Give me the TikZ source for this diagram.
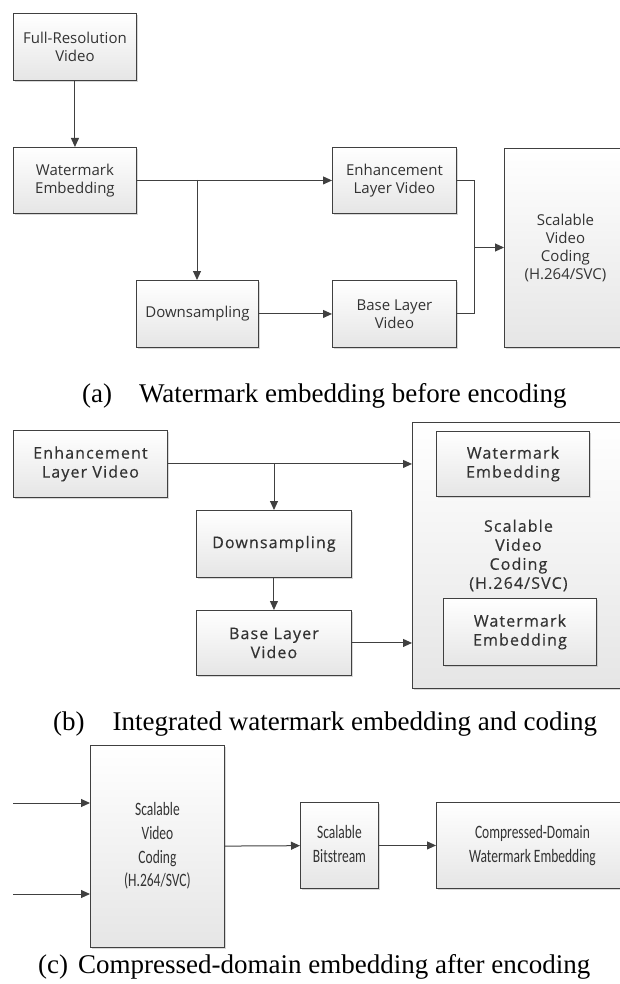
\documentclass[tikz,border=0pt]{standalone}
\usepackage{fontspec}
\setmainfont{Liberation Serif}
\newfontfamily\boxfont{Open Sans}
\newfontfamily\boxfontb[LetterSpace=7,FakeBold=0.4]{Open Sans}
\newfontfamily\calfont{Carlito}
\usepackage{xcolor}
\usepackage{tikz}
\usetikzlibrary{arrows.meta}
\usetikzlibrary{shadows}
\newcommand{\tallt}[1]{\scalebox{1}[1.4]{\begin{tabular}{@{}c@{}}#1\end{tabular}}}

\begin{document}
\begin{tikzpicture}[x=1pt, y=-1pt,
    blk/.style={draw=black!75, line width=0.9pt, top color=white, bottom color=black!10,
      drop shadow={shadow xshift=1.5pt, shadow yshift=-1.5pt, fill=black!30, opacity=.5},
      anchor=north west, inner sep=0pt, align=center, text=black!80},
    blka/.style={blk, font=\boxfont\fontsize{15}{18}\selectfont},
    blkb/.style={blk, font=\boxfontb\fontsize{16}{19}\selectfont},
    blkc/.style={blk, font=\calfont\fontsize{13.5}{17}\selectfont},
    arr/.style={draw=black!75, line width=1pt, -{Triangle[length=9pt, width=8pt]}},
    lin/.style={draw=black!75, line width=1pt},
    figcap/.style={anchor=base west, inner sep=0pt, font=\fontsize{27}{30}\selectfont}]
    \useasboundingbox (0,0) rectangle (619,984);

    % (a) embedding before encoding
    \node[blka, minimum width=123, minimum height=67] (fullres) at (13,13) {Full-Resolution\\Video};
    \node[blka, minimum width=123, minimum height=66] (wmemb) at (13,147) {Watermark\\Embedding};
    \node[blka, minimum width=124, minimum height=66] (enh) at (332,147) {Enhancement\\Layer Video};
    \node[blka, minimum width=122, minimum height=67] (down) at (136,280) {Downsampling};
    \node[blka, minimum width=124, minimum height=67] (base) at (332,280) {Base Layer\\Video};
    \node[blka, minimum width=122, minimum height=199] (svc) at (504,148) {Scalable\\Video\\Coding\\(H.264/SVC)};
    \coordinate (br1) at (197,180);
    \coordinate (jn) at (474,247.5);

    \draw[arr] (fullres) -- (wmemb);
    \draw[arr] (wmemb.east) -- (enh.west);
    \draw[arr] (br1) -- (br1 |- down.north);
    \draw[arr] (down) -- (base);
    \draw[lin] (enh.east) -| (jn);
    \draw[lin] (base.east) -| (jn);
    \draw[arr] (jn) -- (jn -| svc.west);
    \node[figcap] (capa) at (82,402) {(a)\hspace{27pt}Watermark embedding before encoding};

    % (b) integrated embedding and coding
    \node[blkb, minimum width=154, minimum height=67] (enhb) at (13,430) {Enhancement\\Layer Video};
    \node[blkb, minimum width=155, minimum height=67] (downb) at (196,510) {Downsampling};
    \node[blkb, minimum width=155, minimum height=65] (baseb) at (196,610) {Base Layer\\Video};
    \node[blkb, minimum width=212, minimum height=266] (svcb) at (412,422) {Scalable\\Video\\Coding\\(H.264/SVC)};
    \node[blkb, minimum width=153, minimum height=65] (wmtop) at (436,431) {Watermark\\Embedding};
    \node[blkb, minimum width=153, minimum height=67] (wmbot) at (443,598) {Watermark\\Embedding};
    \coordinate (br2) at (274,464);

    \draw[arr] (enhb.east) -- (enhb.east -| svcb.west);
    \draw[arr] (br2) -- (br2 |- downb.north);
    \draw[arr] (downb) -- (baseb);
    \draw[arr] (baseb.east) -- (baseb.east -| svcb.west);
    \node[figcap] (capb) at (53,730) {(b)\hspace{28pt}Integrated watermark embedding and coding};

    % (c) compressed-domain embedding
    \node[blkc, minimum width=134, minimum height=202] (svcc) at (90,745) {\tallt{Scalable\\Video\\Coding\\(H.264/SVC)}};
    \node[blkc, minimum width=78, minimum height=86] (bits) at (300,802) {\tallt{Scalable\\Bitstream}};
    \node[blkc, minimum width=192, minimum height=86] (comp) at (436,802) {\tallt{Compressed-Domain\\Watermark Embedding}};
    \coordinate (in1) at (13,803);
    \coordinate (in2) at (13,894);

    \draw[arr] (in1) -- (in1 -| svcc.west);
    \draw[arr] (in2) -- (in2 -| svcc.west);
    \draw[arr] (svcc) -- (bits);
    \draw[arr] (bits) -- (comp);
    \node[figcap] (capc) at (38,973) {(c)\hspace{10pt}Compressed-domain embedding after encoding};
\end{tikzpicture}
\end{document}
